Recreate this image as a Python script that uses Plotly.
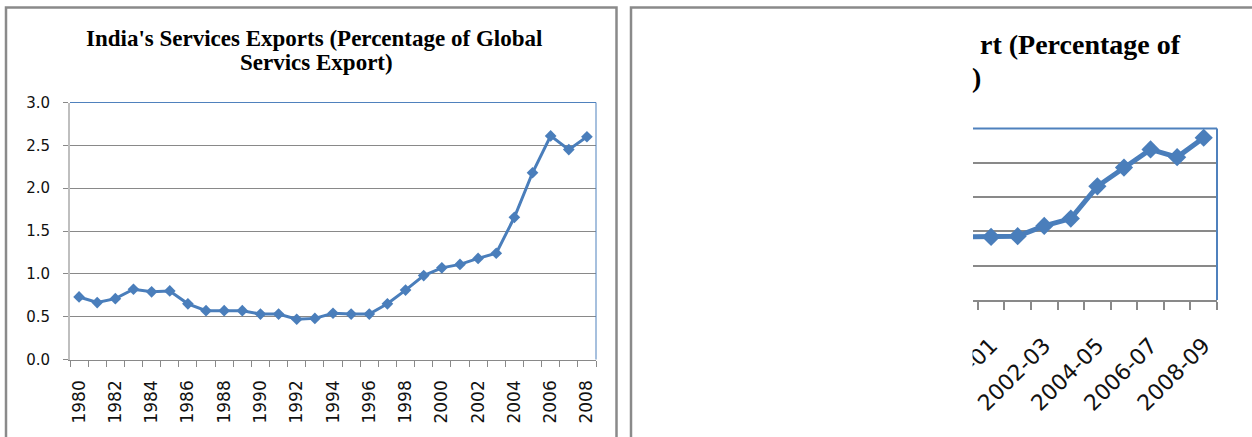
import plotly.graph_objects as go

# ---------------- data ----------------
years = list(range(1980, 2009))
share_global = [0.73, 0.665, 0.71, 0.82, 0.79, 0.80, 0.65, 0.57, 0.57, 0.57,
                0.53, 0.53, 0.47, 0.48, 0.54, 0.53, 0.53, 0.65, 0.81, 0.98,
                1.07, 1.11, 1.18, 1.24, 1.66, 2.18, 2.61, 2.45, 2.60]
year_labels = [str(y) for y in years[::2]]
left_y_ticks = [0.0, 0.5, 1.0, 1.5, 2.0, 2.5, 3.0]
left_title_lines = ["India's Services Exports (Percentage of Global", "Servics Export)"]

fiscal_years = ["1999-00", "2000-01", "2001-02", "2002-03", "2003-04",
                "2004-05", "2005-06", "2006-07", "2007-08", "2008-09"]
share_gdp = [3.68, 3.68, 3.72, 4.32, 4.75, 6.63, 7.72, 8.78, 8.33, 9.46]
right_y_ticks = [0, 2, 4, 6, 8, 10]
right_title_fragments = ["rt (Percentage of", ")"]

# ---------------- styling ----------------
W, H = 1252, 437
BLUE = "#4a7ebb"
BORDER_BLUE = "#4f81bd"
GRID = "#898989"
PANEL = "#8a8a8a"
FONT = "DejaVu Sans"
SERIF = "Liberation Serif"


def px(x):
    return x / W


def py(y):
    return 1 - y / H


fig = go.Figure()

fig.add_trace(go.Scatter(
    x=years, y=share_global, xaxis="x", yaxis="y",
    mode="lines+markers",
    line=dict(color=BLUE, width=3),
    marker=dict(symbol="diamond", size=9, color=BLUE),
    showlegend=False,
))

fidx = list(range(len(fiscal_years)))
fig.add_trace(go.Scatter(
    x=fidx, y=share_gdp, xaxis="x2", yaxis="y2",
    mode="lines+markers",
    line=dict(color=BLUE, width=5),
    marker=dict(symbol="diamond", size=14, color=BLUE),
    showlegend=False,
))

fig.update_layout(
    width=W, height=H, autosize=False,
    margin=dict(l=0, r=0, t=0, b=0, pad=0),
    paper_bgcolor="white", plot_bgcolor="rgba(0,0,0,0)",
    xaxis=dict(
        domain=[px(70), px(596)], anchor="y", automargin=False,
        range=[years[0] - 0.5, years[-1] + 0.5],
        tickmode="array", tickvals=years[::2], ticktext=year_labels,
        tickangle=-90, ticks="", showgrid=False, zeroline=False,
        showline=True, linecolor=GRID, linewidth=1,
        minor=dict(tickmode="array",
                   tickvals=[y - 0.5 for y in years] + [years[-1] + 0.5],
                   ticks="outside", ticklen=6, tickwidth=1, tickcolor=GRID,
                   showgrid=False),
        tickfont=dict(family=FONT, size=17, color="#111111"),
        ticklabelstandoff=13,
    ),
    yaxis=dict(
        domain=[py(359.5), py(102.5)], anchor="x", automargin=False,
        range=[0, 3],
        tickmode="array", tickvals=left_y_ticks,
        ticktext=[f"{v:.1f}" for v in left_y_ticks],
        ticks="outside", ticklen=5, tickcolor=GRID, tickwidth=1,
        showgrid=True, gridcolor=GRID, gridwidth=1, zeroline=False,
        showline=True, linecolor="#bfbfbf", linewidth=2,
        tickfont=dict(family=FONT, size=15, color="#111111"),
        ticklabelstandoff=10,
    ),
    xaxis2=dict(
        domain=[px(973), px(1217)], anchor="y2", automargin=False,
        range=[0.32, len(fiscal_years) - 0.5],
        tickmode="array", tickvals=fidx[1::2], ticktext=fiscal_years[1::2],
        tickangle=-45, ticks="", showgrid=False, zeroline=False,
        showline=True, linecolor=GRID, linewidth=2,
        minor=dict(tickmode="array", tickvals=[i + 0.5 for i in fidx],
                   ticks="outside", ticklen=8, tickwidth=2, tickcolor=GRID,
                   showgrid=False),
        tickfont=dict(family=FONT, size=22, color="#111111"),
        ticklabelstandoff=22,
    ),
    yaxis2=dict(
        domain=[py(300), py(128.5)], anchor="x2", automargin=False,
        range=[right_y_ticks[0], right_y_ticks[-1]],
        tickmode="array", tickvals=right_y_ticks,
        showticklabels=False, ticks="",
        showgrid=True, gridcolor=GRID, gridwidth=2, zeroline=False,
        showline=False,
    ),
)

shapes = [
    # white cover hiding the cut-off left part of the right-hand chart
    dict(type="rect", xref="paper", yref="paper",
         x0=px(633), x1=px(972.6), y0=py(H + 10), y1=py(10),
         fillcolor="white", line=dict(width=0), layer="above"),
    # panel frames
    dict(type="rect", xref="paper", yref="paper",
         x0=px(6), x1=px(616.5), y0=py(H + 20), y1=py(7.5),
         line=dict(color=PANEL, width=2.5), fillcolor="rgba(0,0,0,0)", layer="above"),
    dict(type="rect", xref="paper", yref="paper",
         x0=px(631), x1=px(W + 20), y0=py(H + 20), y1=py(7.5),
         line=dict(color=PANEL, width=2.5), fillcolor="rgba(0,0,0,0)", layer="above"),
    # plot-area borders (top and right, blue)
    dict(type="line", xref="x domain", yref="y domain", x0=0, x1=1, y0=1, y1=1,
         line=dict(color=BORDER_BLUE, width=1), layer="above"),
    dict(type="line", xref="x domain", yref="y domain", x0=1, x1=1, y0=0, y1=1,
         line=dict(color=BORDER_BLUE, width=1), layer="above"),
    dict(type="line", xref="x2 domain", yref="y2 domain", x0=0, x1=1, y0=1, y1=1,
         line=dict(color=BORDER_BLUE, width=2), layer="above"),
    dict(type="line", xref="x2 domain", yref="y2 domain", x0=1, x1=1, y0=0, y1=1,
         line=dict(color=BORDER_BLUE, width=2), layer="above"),
]
fig.update_layout(shapes=shapes)

title_font_l = dict(family=SERIF, size=23, color="black", weight="bold")
title_font_r = dict(family=SERIF, size=28, color="black", weight="bold")
fig.update_layout(annotations=[
    dict(text=left_title_lines[0], xref="paper", yref="paper",
         x=px(314), y=py(38.5), xanchor="center", yanchor="middle",
         showarrow=False, font=title_font_l),
    dict(text=left_title_lines[1], xref="paper", yref="paper",
         x=px(316), y=py(62.7), xanchor="center", yanchor="middle",
         showarrow=False, font=title_font_l),
    dict(text=right_title_fragments[0], xref="paper", yref="paper",
         x=px(1183), y=py(44), xanchor="right", yanchor="middle",
         showarrow=False, font=title_font_r),
    dict(text=right_title_fragments[1], xref="paper", yref="paper",
         x=px(970), y=py(77), xanchor="left", yanchor="middle",
         showarrow=False, font=title_font_r),
])

fig.write_html(
    "out.html",
    config={"displayModeBar": False},
    post_script="document.body.style.margin='0';document.body.style.overflow='hidden';",
)
